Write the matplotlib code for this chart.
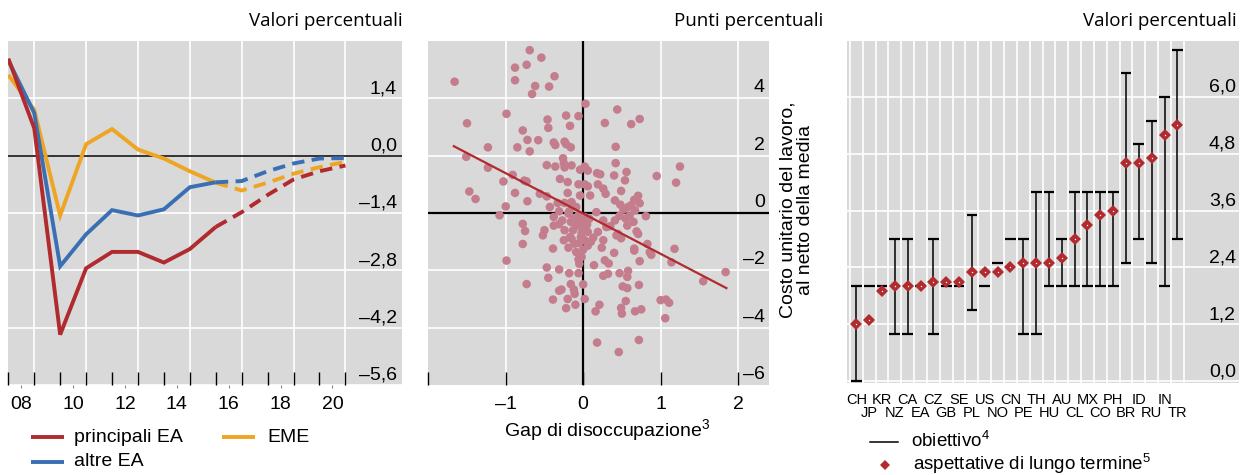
import matplotlib
matplotlib.use("Agg")
import matplotlib.pyplot as plt
import matplotlib.transforms as mtransforms
from matplotlib.lines import Line2D

plt.rcParams['font.family'] = ['Liberation Sans', 'DejaVu Sans']
plt.rcParams['mathtext.fontset'] = 'custom'
plt.rcParams['mathtext.rm'] = 'Liberation Sans'
plt.rcParams['mathtext.it'] = 'Liberation Sans:italic'
plt.rcParams['mathtext.bf'] = 'Liberation Sans:bold'

# ---------------- data: output gaps (left) ----------------
years = [2008, 2009, 2010, 2011, 2012, 2013, 2014, 2015, 2016,
         2017, 2018, 2019, 2020, 2021]
last_actual = 2016
gap_main_ea = [2.37, 0.67, -4.37, -2.75, -2.35, -2.35, -2.61, -2.28, -1.74,
               -1.38, -0.96, -0.58, -0.38, -0.24]
gap_other_ea = [2.33, 1.04, -2.70, -1.92, -1.33, -1.46, -1.31, -0.77, -0.65,
                -0.62, -0.38, -0.19, -0.07, -0.06]
gap_eme = [1.97, 1.12, -1.46, 0.28, 0.65, 0.15, -0.07, -0.38, -0.66,
           -0.85, -0.66, -0.44, -0.28, -0.15]
series_labels = ['principali EA', 'altre EA', 'EME']
left_yticks = [1.4, 0.0, -1.4, -2.8, -4.2, -5.6]
left_year_labels = ['08', '10', '12', '14', '16', '18', '20']

# ---------------- data: unemployment gap vs unit labour cost (middle) ----------------
gap_x = [
    -1.66, -0.69, -0.88, -0.73, -0.88, -0.66, -0.99, -1.50, -0.78, -0.72,
    -1.23, -0.85, -0.69, -1.51, -1.23, -0.91, -1.03, -0.76, -0.73, -1.47,
    -0.88, -1.39, -0.72, -1.00, -1.08, -0.78, -0.75, -0.78, -0.99, -0.73,
    0.95, 1.20, 1.25, 0.81, 0.83, 0.86, 0.88, 1.18, 1.14, 1.84,
    1.55, 1.00, 1.07, 1.11, 1.06,
    -0.54, -0.37, -0.62, -0.44, 0.03, -0.22, -0.06, -0.46, -0.45, -0.17,
    -0.58, -0.38, -0.24, -0.36, -0.22, -0.16, -0.26, 0.44, 0.28, 0.62,
    0.73, 0.42,
    -0.45, -0.16, 0.00, -0.31, -0.28, -0.12, -0.11, -0.39, -0.20, 0.02,
    -0.22, -0.10, 0.16, 0.18, -0.18, -0.06, 0.26, 0.32, 0.47, 0.57,
    0.72, 0.51, 0.57, 0.55, 0.21, 0.49, 0.50, 0.67, 0.75, 0.72, 0.46,
    -0.47, -0.36, -0.25, -0.15, 0.02, 0.06, -0.04, 0.18, 0.22, 0.42,
    0.56, 0.40, 0.54, -0.30, -0.20, -0.06, 0.02, 0.06, 0.19, 0.26,
    0.29, 0.49, -0.56, -0.20, -0.04, 0.09, 0.41, -0.33, -0.24, -0.15,
    -0.09, -0.43, 0.58, 0.62, 0.67, 0.52, 0.17, -0.19, -0.06, 0.02,
    -0.38, -0.27, -0.16, -0.04, 0.26, 0.30, 0.41, 0.55, 0.65, 0.69,
    -0.50, -0.52, -0.31, -0.24, -0.13, 0.00, 0.06, 0.19, 0.43, -0.25,
    -0.17, -0.11, 0.02, 0.13, 0.26, -0.39, -0.19, -0.09, 0.00, 0.24,
    0.40, 0.66, -0.06, -0.02, 0.28, 0.14, -0.47, -0.31, 0.58,
    0.71, 0.66, 0.73, 0.48, 0.60, 0.35, 0.45, 0.49, 0.57, 0.71,
    0.66, 0.73, 0.33, 0.47, -0.47, -0.31, -0.18, -0.24, -0.38, 0.06,
    -0.05, -0.03, -0.08, -0.02, 0.05, -0.12, 0.08, -0.05, 0.10, -0.15,
    0.00,
]
ulc_y = [
    4.58, 5.68, 5.07, 5.17, 4.63, 4.15, 3.46, 3.13, 2.88, 2.55,
    2.29, 2.29, 2.15, 1.96, 1.58, 1.33, 1.10, 1.13, 1.10, 0.75,
    0.70, 0.49, 0.41, 0.23, -0.08, -0.38, -0.63, -1.08, -1.66, -2.48,
    1.29, 1.06, 1.62, -0.11, -1.08, -1.37, -1.46, -1.25, -1.72, -2.06,
    -2.38, -3.04, -3.02, -3.13, -3.67,
    5.42, 4.77, 4.43, 4.41, 3.81, 3.40, 3.38, 3.26, 2.97, 3.04,
    2.54, 2.46, 2.49, 2.37, 2.40, 2.29, 1.91, 3.61, 3.14, 3.10,
    3.28, 2.31,
    -2.26, -2.48, -2.49, -2.71, -2.67, -2.67, -2.82, -3.02, -3.00, -3.00,
    -3.32, -3.20, -3.43, -4.52, -2.10, -2.10, -2.19, -2.12, -2.10, -2.23,
    -2.51, -2.56, -2.62, -3.07, -3.20, -3.31, -3.51, -3.43, -3.36, -4.43, -4.85,
    1.67, 1.62, 1.74, 1.66, 1.62, 1.48, 1.51, 1.39, 1.35, 1.74,
    1.43, 1.31, 1.14, 1.19, 1.08, 1.00, 1.00, 0.93, 1.00, 0.85,
    0.67, 0.77, 0.67, 0.70, 0.61, 0.61, 0.44, 0.35, 0.35, 0.38,
    0.21, 0.21, 0.21, 0.27, 0.09, 0.12, 0.03, -0.02, -0.08, -0.14,
    -0.14, -0.26, -0.31, -0.37, -0.26, -0.49, -0.26, -0.20, -0.31, -0.64,
    -0.60, -0.78, -0.39, -0.60, -0.60, -0.55, -0.66, -0.66, -0.78, -0.95,
    -0.84, -1.07, -0.95, -0.86, -0.95, -1.24, -1.21, -1.36, -1.28, -1.21,
    -1.39, -1.24, -1.62, -1.53, -1.65, -1.82, -1.90, -1.97, -2.02,
    0.60, 0.46, 0.34, 0.29, -0.09, -0.46, -0.73, -0.88, -0.44, -0.73,
    -1.31, -1.68, -1.76, -0.10, 0.58, 0.06, 0.06, 1.59, -0.44, -1.14,
    -1.77, -0.85, -0.45, -0.70, -0.40, -0.20, -0.20, -1.05, -1.00, -0.90,
    -0.25,
]
fit_x = [-1.67, 1.85]
fit_y = [2.33, -2.62]
mid_yticks = [4, 2, 0, -2, -4, -6]
mid_xticks = [-1, 0, 1, 2]

# ---------------- data: inflation targets and expectations (right) ----------------
countries = ['CH', 'JP', 'KR', 'NZ', 'CA', 'EA', 'CZ', 'GB', 'SE', 'PL', 'US', 'NO', 'CN',
             'PE', 'TH', 'HU', 'AU', 'CL', 'MX', 'CO', 'PH', 'BR', 'ID', 'RU', 'IN', 'TR']
expectations = [1.2, 1.3, 1.9, 2.0, 2.0, 2.0, 2.1, 2.1, 2.1, 2.3, 2.3, 2.3, 2.4,
                2.5, 2.5, 2.5, 2.6, 3.0, 3.3, 3.5, 3.6, 4.6, 4.6, 4.7, 5.2, 5.4]
target_low = [0.0, 2.0, 2.0, 1.0, 1.0, 2.0, 1.0, 2.0, 2.0, 1.5, 2.0, 2.5, 3.0,
              1.0, 1.0, 2.0, 2.0, 2.0, 2.0, 2.0, 2.0, 2.5, 3.0, 2.5, 2.0, 3.0]
target_high = [2.0, 2.0, 2.0, 3.0, 3.0, 2.0, 3.0, 2.0, 2.0, 3.5, 2.0, 2.5, 3.0,
               3.0, 4.0, 4.0, 3.0, 4.0, 4.0, 4.0, 4.0, 6.5, 5.0, 5.5, 6.0, 7.0]
right_yticks = [6.0, 4.8, 3.6, 2.4, 1.2, 0.0]

# ---------------- styling ----------------
BG = '#d9d9d9'
RED = '#b02a2e'
BLUE = '#3a6fb4'
YELLOW = '#eea523'
PINK = '#c47d8d'
FS = 14
W, H = 1242, 475

fig = plt.figure(figsize=(W / 100, H / 100), dpi=100)


def fig_rect(x0, y0, x1, y1):
    return [x0 / W, 1 - y1 / H, (x1 - x0) / W, (y1 - y0) / H]


def fmt(v, dec=1):
    s = f"{abs(v):.{dec}f}".replace('.', ',')
    return ('\u2013' + s) if v < 0 else s


def inner_labels(ax, values, texts, xfrac, dy=5):
    tr = mtransforms.blended_transform_factory(ax.transAxes, ax.transData)
    tr = tr + mtransforms.ScaledTranslation(0, dy / 100, fig.dpi_scale_trans)
    for v, t in zip(values, texts):
        ax.text(xfrac, v, t, transform=tr, ha='right', va='baseline',
                fontsize=FS, color='black', zorder=6)


def base_axes(ax):
    ax.set_facecolor(BG)
    for s in ax.spines.values():
        s.set_visible(False)
    ax.set_yticks([])
    ax.tick_params(axis='x', which='both', labelbottom=False, bottom=False)


# ---------------- left panel ----------------
ax1 = fig.add_axes(fig_rect(8.3, 41, 401.7, 385))
base_axes(ax1)
ax1.set_xlim(2008, 2023.17)
ax1.set_ylim(-5.6, 2.8)
for v in left_yticks:
    if v != 0:
        ax1.axhline(v, color='white', lw=1.2, zorder=1)
for yr in range(2009, 2022, 2):
    ax1.axvline(yr, color='white', lw=1.2, zorder=1)
ax1.axhline(0, color='#333333', lw=1.4, zorder=2)

k = years.index(last_actual)
colors = [RED, BLUE, YELLOW]
series = [gap_main_ea, gap_other_ea, gap_eme]
for vals, col, z in zip(series[::-1], colors[::-1], [3, 4, 5]):
    ax1.plot(years[:k + 1], vals[:k + 1], color=col, lw=2.8, zorder=z,
             solid_joinstyle='miter', solid_capstyle='butt')
    ax1.plot(years[k:], vals[k:], color=col, lw=2.8, zorder=z,
             linestyle=(0, (3.2, 1.9)), dash_capstyle='butt')

ax1.set_xticks(list(range(2008, 2022)))
ax1.tick_params(axis='x', which='major', bottom=True, direction='in',
                length=9.5, width=1, color='black')
ax1.set_xticks([int('20' + s) + 0.5 for s in left_year_labels], minor=True)
ax1.tick_params(axis='x', which='minor', bottom=True, direction='out',
                length=2.5, width=0.8, color='#888888')
xl_tr = mtransforms.blended_transform_factory(ax1.transData, ax1.transAxes)
for s in left_year_labels:
    ax1.text(int('20' + s) + 0.5, -0.058, s, transform=xl_tr, ha='center',
             va='center', fontsize=FS)
inner_labels(ax1, left_yticks, [fmt(v) for v in left_yticks], 0.988)

fig.text(403 / W, 1 - 21 / H, 'Valori percentuali', ha='right', va='center',
         fontsize=13.5, family=['Open Sans', 'DejaVu Sans'])

# legend (left)
leg_rows = [(437, 31, 64, 74), (462, 31, 64, 74), (437, 222, 255, 267)]
for (yy, xa, xb, xt), col, lab in zip(leg_rows, colors, series_labels):
    fig.add_artist(Line2D([xa / W, xb / W], [1 - yy / H, 1 - yy / H],
                          color=col, lw=2.8, solid_capstyle='butt'))
    fig.text(xt / W, 1 - yy / H, lab, ha='left', va='center', fontsize=FS)

# ---------------- middle panel ----------------
ax2 = fig.add_axes(fig_rect(428.3, 41, 769, 385))
base_axes(ax2)
ax2.set_xlim(-2.0, 2.4)
ax2.set_ylim(-6.0, 6.0)
for v in [4, 2, -2, -4]:
    ax2.axhline(v, color='white', lw=1.2, zorder=1)
for v in [-1, 1, 2]:
    ax2.axvline(v, color='white', lw=1.2, zorder=1)
ax2.axhline(0, color='black', lw=1.6, zorder=2)
ax2.axvline(0, color='black', lw=1.6, zorder=2)
ax2.scatter(gap_x, ulc_y, s=38, color=PINK, edgecolors='none', zorder=3)
ax2.plot(fit_x, fit_y, color=RED, lw=1.6, zorder=4)
ax2.set_xticks([-2] + mid_xticks)
ax2.tick_params(axis='x', which='major', bottom=True, direction='in',
                length=9.5, width=1, color='black')
xm_tr = mtransforms.blended_transform_factory(ax2.transData, ax2.transAxes)
for v in mid_xticks:
    ax2.text(v, -0.058, fmt(v, 0), transform=xm_tr, ha='center', va='center',
             fontsize=FS)
inner_labels(ax2, mid_yticks, [fmt(v, 0) for v in mid_yticks], 0.988, dy=6)
fig.text(607 / W, 1 - 430 / H, 'Gap di disoccupazione$^{3}$', ha='center',
         va='center', fontsize=FS)
fig.text(797 / W, 1 - 210 / H, 'Costo unitario del lavoro,\nal netto della media',
         ha='center', va='center', rotation=90, fontsize=FS,
         multialignment='center', linespacing=1.05)
fig.text(823 / W, 1 - 21 / H, 'Punti percentuali', ha='right', va='center',
         fontsize=13.5, family=['Open Sans', 'DejaVu Sans'])

# ---------------- right panel ----------------
ax3 = fig.add_axes(fig_rect(846.7, 41, 1239, 383))
base_axes(ax3)
n = len(countries)
ax3.set_xlim(-0.75, 29.8)
ax3.set_ylim(-0.04, 7.18)
for v in right_yticks:
    ax3.axhline(v, color='white', lw=1.2, zorder=1)
for i in range(n + 1):
    ax3.axvline(i - 0.5, color='white', lw=1.2, zorder=1)
half = 0.42
for i, (lo, hi) in enumerate(zip(target_low, target_high)):
    if hi > lo:
        ax3.vlines(i, lo, hi, color='black', lw=1.1, zorder=3)
        ax3.hlines([lo, hi], i - half, i + half, color='black', lw=1.6, zorder=3)
    else:
        ax3.hlines(lo, i - half, i + half, color='black', lw=1.6, zorder=3)
xs = list(range(n))
ax3.plot(xs, expectations, linestyle='none', marker='D', ms=6.5,
         color=RED, mec=RED, mew=0, zorder=4)
ax3.plot(xs, expectations, linestyle='none', marker='s', ms=0.9,
         color='white', mec='white', mew=0, zorder=5)
inner_labels(ax3, right_yticks, [fmt(v) for v in right_yticks], 0.992, dy=5)
xc_tr = mtransforms.blended_transform_factory(ax3.transData, ax3.transAxes)
for i, c in enumerate(countries):
    yy = -0.050 if i % 2 == 0 else -0.088
    ax3.text(i, yy, c, transform=xc_tr, ha='center', va='center', fontsize=10.5)
fig.text(1237 / W, 1 - 21 / H, 'Valori percentuali', ha='right', va='center',
         fontsize=13.5, family=['Open Sans', 'DejaVu Sans'])

# legend (right)
fig.add_artist(Line2D([870 / W, 898 / W], [1 - 442 / H, 1 - 442 / H],
                      color='black', lw=1.1))
fig.text(911 / W, 1 - 441 / H, 'obiettivo$^{4}$', ha='left', va='center',
         fontsize=13.5)
fig.add_artist(Line2D([885 / W], [1 - 465 / H], marker='D', ms=5.5,
                      color=RED, mew=0, linestyle='none'))
fig.text(913 / W, 1 - 464 / H, 'aspettative di lungo termine$^{5}$', ha='left',
         va='center', fontsize=13.5)

fig.savefig('out.png', dpi=100)
